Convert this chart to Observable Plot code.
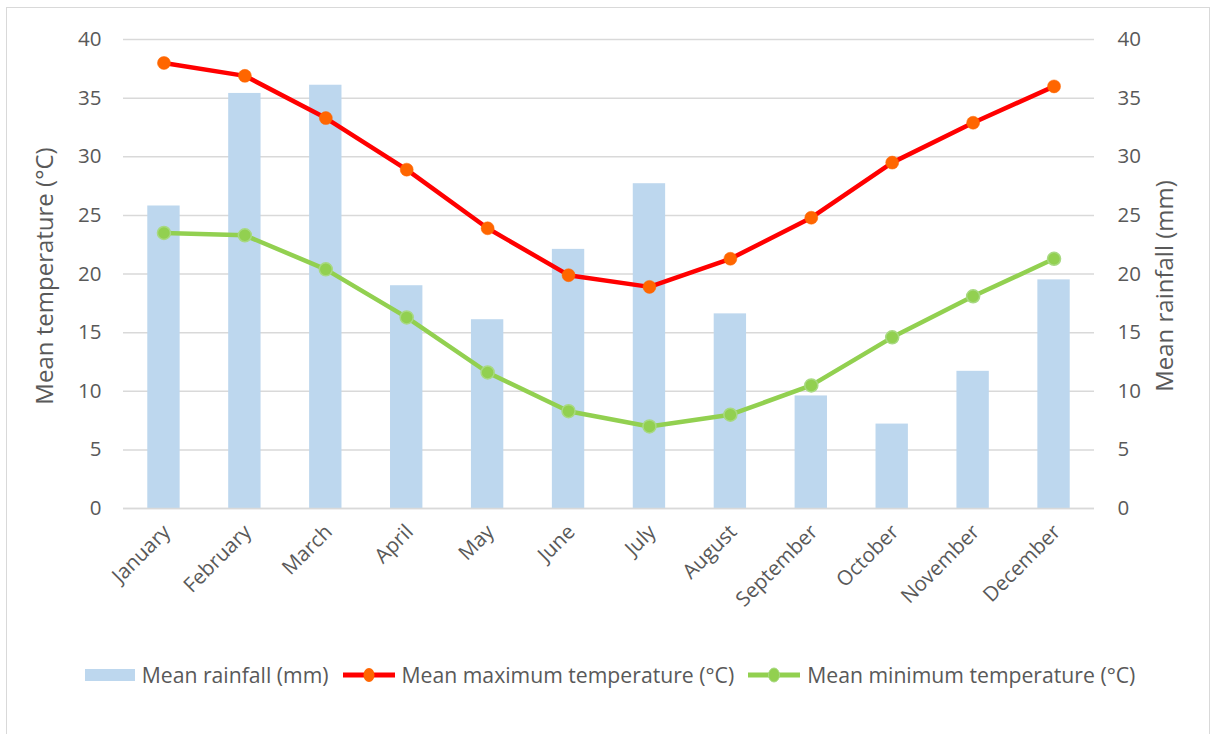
<!DOCTYPE html>
<html>
<head>
<meta charset="utf-8">
<script src="https://cdn.jsdelivr.net/npm/d3@7"></script>
<script src="https://cdn.jsdelivr.net/npm/@observablehq/plot@0.6"></script>
<style>
  body { margin:0; background:#fff; font-family:"Open Sans", sans-serif; }
  #frame { position:absolute; left:6px; top:7px; width:1204px; height:760px; border:1.5px solid #d9d9d9; box-sizing:border-box; }
  #chart { position:absolute; left:0; top:0; }
  #legend { position:absolute; left:2px; top:660px; width:1216px; display:flex; justify-content:center; align-items:center; gap:14px; color:#595959; font-size:21.2px; }
  .item { display:flex; align-items:center; }
  .item svg { margin-right:7px; }
</style>
</head>
<body>
<div id="frame"></div>
<div id="chart"></div>
<div id="legend"></div>
<script>
const months = ["January","February","March","April","May","June","July","August","September","October","November","December"];
const rainfall = [25.8, 35.4, 36.1, 19.0, 16.1, 22.1, 27.7, 16.6, 9.6, 7.2, 11.7, 19.5];
const maxTemp = [38.0, 36.9, 33.3, 28.9, 23.9, 19.9, 18.9, 21.3, 24.8, 29.5, 32.9, 36.0];
const minTemp = [23.5, 23.3, 20.4, 16.3, 11.6, 8.3, 7.0, 8.0, 10.5, 14.6, 18.1, 21.3];
const yTicks = [0, 5, 10, 15, 20, 25, 30, 35, 40];
const seriesNames = ["Mean rainfall (mm)", "Mean maximum temperature (°C)", "Mean minimum temperature (°C)"];
const leftTitle = "Mean temperature (°C)";
const rightTitle = "Mean rainfall (mm)";

const data = months.map((m, i) => ({month: m, rain: rainfall[i], max: maxTemp[i], min: minTemp[i]}));

const colors = {rain: "#bdd7ee", maxLine: "#ff0000", maxDot: "#ff6600", minLine: "#92d050", minDotStroke: "#a8d982", text: "#595959"};

const chart = Plot.plot({
  width: 1216,
  height: 640,
  marginLeft: 123,
  marginRight: 122,
  marginTop: 39,
  marginBottom: 132,
  x: {domain: months, paddingInner: 0.6, paddingOuter: 0.3, align: 0.5, round: false, label: null},
  y: {domain: [0, 40], label: null},
  style: {fontFamily: "Open Sans", fontSize: "20px", color: colors.text, background: "transparent", overflow: "visible"},
  marks: [
    Plot.gridY(yTicks, {stroke: "#d9d9d9", strokeOpacity: 1, strokeWidth: 1.5}),
    Plot.barY(data, {x: "month", y: "rain", fill: colors.rain}),
    Plot.ruleY([0], {stroke: "#d9d9d9", strokeWidth: 1.5}),
    Plot.line(data, {x: "month", y: "max", stroke: colors.maxLine, strokeWidth: 4.5}),
    Plot.dot(data, {x: "month", y: "max", r: 6.5, fill: colors.maxDot, stroke: colors.maxDot, strokeWidth: 0.5}),
    Plot.line(data, {x: "month", y: "min", stroke: colors.minLine, strokeWidth: 4.5}),
    Plot.dot(data, {x: "month", y: "min", r: 6.5, fill: colors.minLine, stroke: colors.minDotStroke, strokeWidth: 1.5}),
    Plot.axisY(yTicks, {anchor: "left", tickSize: 0, tickPadding: 22, label: null, fontSize: 20.5, fill: colors.text}),
    Plot.axisY(yTicks, {anchor: "right", tickSize: 0, tickPadding: 23, label: null, fontSize: 20.5, fill: colors.text}),
    Plot.axisX({tickSize: 0, tickRotate: -45, tickPadding: 20, dx: 3, label: null, fontSize: 20.5, fill: colors.text}),
    Plot.text([leftTitle], {frameAnchor: "left", textAnchor: "middle", rotate: -90, dx: -78, dy: 2, fontSize: 24, fill: colors.text}),
    Plot.text([rightTitle], {frameAnchor: "right", textAnchor: "middle", rotate: -90, dx: 71, dy: 12, fontSize: 24, fill: colors.text})
  ]
});
document.getElementById("chart").appendChild(chart);

// legend
const legend = document.getElementById("legend");
const swatches = [
  `<svg width="50" height="14"><rect x="0" y="1" width="50" height="12" fill="${colors.rain}"/></svg>`,
  `<svg width="52" height="16"><line x1="0" y1="8" x2="52" y2="8" stroke="${colors.maxLine}" stroke-width="5"/><ellipse cx="26" cy="8" rx="5.5" ry="7" fill="${colors.maxDot}"/></svg>`,
  `<svg width="52" height="16"><line x1="0" y1="8" x2="52" y2="8" stroke="${colors.minLine}" stroke-width="5"/><ellipse cx="26" cy="8" rx="5.5" ry="7" fill="${colors.minLine}" stroke="${colors.minDotStroke}" stroke-width="1"/></svg>`
];
seriesNames.forEach((name, i) => {
  const d = document.createElement("div");
  d.className = "item";
  d.innerHTML = swatches[i] + `<span>${name}</span>`;
  legend.appendChild(d);
});
</script>
</body>
</html>
